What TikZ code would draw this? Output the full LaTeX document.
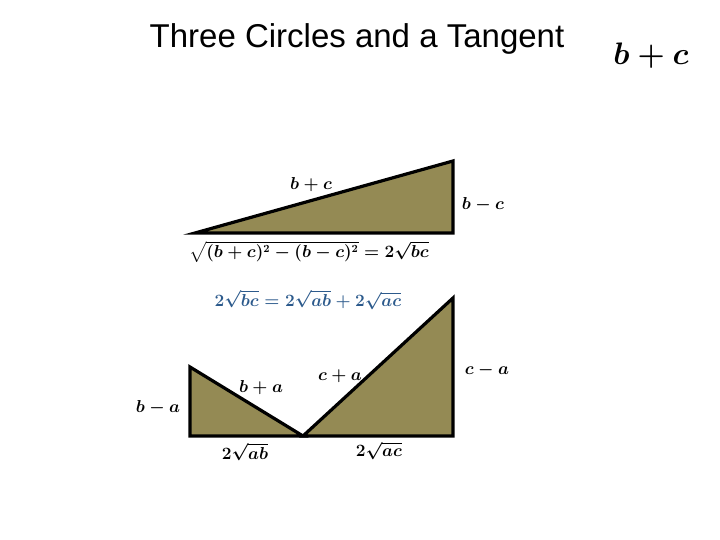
\documentclass[tikz,border=0pt]{standalone}
\usepackage{fontspec}
\usepackage{amsmath}
\usepackage{graphicx}
\newfontfamily\titlefont{Liberation Sans}
\definecolor{olive}{HTML}{948A54}
\definecolor{eqblue}{HTML}{2C5A8C}
\begin{document}
\begin{tikzpicture}[x=1pt,y=-1pt,
  tri/.style={fill=olive,draw=black,line width=3.2pt,line join=miter},
  lbl/.style={font=\fontsize{16}{18}\selectfont\boldmath,inner sep=0pt}]
\useasboundingbox (0,0) rectangle (720,540);
\node[font=\titlefont\fontsize{33}{36}\selectfont,inner sep=0pt] (title) at (357,39) {Three Circles and a Tangent};
\node[font=\fontsize{24}{28}\selectfont\boldmath,inner sep=0pt] (bc) at (651,56) {\scalebox{1.25}{$b+c$}};
% top triangle
\coordinate (A) at (195,233);
\coordinate (B) at (453,161);
\coordinate (C) at (453,233);
\draw[tri] (A) -- (B) -- (C) -- cycle;
\node[lbl] (l1) at (311,185) {$b+c$};
\node[lbl] (l2) at (483,205) {$b-c$};
\node[lbl] (l3) at (309,252) {$\sqrt{(b+c)^2-(b-c)^2}=2\sqrt{bc}$};
\node[lbl,text=eqblue] (eq) at (308,300) {$2\sqrt{bc}=2\sqrt{ab}+2\sqrt{ac}$};
% bottom triangles
\coordinate (P) at (190,367);
\coordinate (Q) at (190,436);
\coordinate (V) at (303,436);
\coordinate (R) at (453,298);
\coordinate (S) at (453,436);
\draw[tri] (P) -- (Q) -- (V) -- cycle;
\draw[tri] (V) -- (R) -- (S) -- cycle;
\node[lbl] (l4) at (158,408) {$b-a$};
\node[lbl] (l5) at (261,388) {$b+a$};
\node[lbl] (l6) at (340,376) {$c+a$};
\node[lbl] (l7) at (487,370) {$c-a$};
\node[lbl] (l8) at (245,452) {$2\sqrt{ab}$};
\node[lbl] (l9) at (379,451) {$2\sqrt{ac}$};
\end{tikzpicture}
\end{document}
